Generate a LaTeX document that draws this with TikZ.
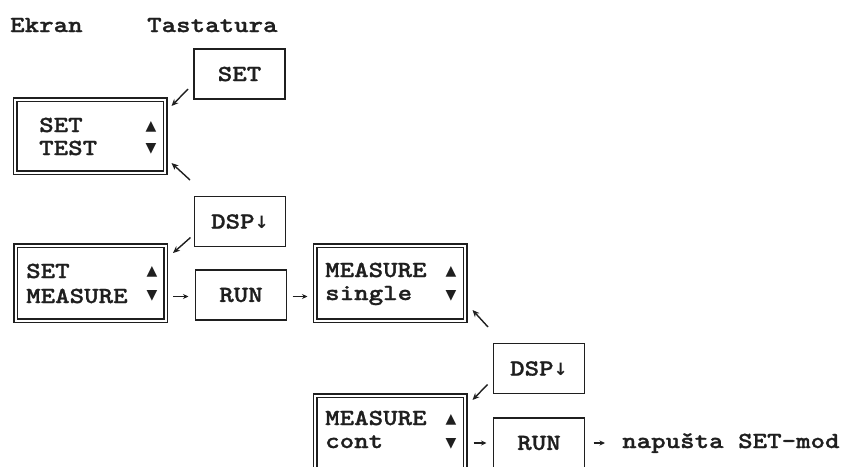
\documentclass[tikz,border=0pt]{standalone}
\usepackage{fontspec}
% slab-serif typewriter face, widened to typewriter pitch
\newfontfamily\tw[FakeStretch=1.2,FakeBold=1.2]{lmmonolt10-bold.otf}
\newfontfamily\symfont{DejaVu Sans}
\usetikzlibrary{arrows.meta,calc}

\begin{document}
\begin{tikzpicture}[x=1pt,y=-1pt,
  ink/.style={draw=black!88},
  tt/.style={font=\tw\fontsize{23}{27}\selectfont, text=black!88},
  label/.style={tt, inner sep=0pt, anchor=base west},
  tri/.style={font=\symfont\fontsize{14}{14}\selectfont, text=black!88, inner sep=0pt},
  screen/.style={ink, line width=1.5pt, double, double distance=2pt,
    minimum width=150pt, minimum height=#1, inner sep=0pt, outer sep=0pt},
  screen/.default=75pt,
  keybox/.style={ink, tt, line width=1.7pt, minimum width=91pt, minimum height=50pt,
    inner sep=0pt, outer sep=0pt},
  arr/.style={ink, line width=1.4pt, -{Stealth[length=7pt,width=6pt]}},
  harr/.style={ink, line width=1.3pt, -{Stealth[length=5.5pt,width=5pt]}}
]
\useasboundingbox (0,0) rectangle (842,466);

% column headings
\node[label] (hscreen) at (10,32) {Ekran};
\node[label] (hkeys) at (147,32) {Tastatura};

% display states
\node[screen=73pt] (s1) at (90,136) {};
\node[screen] (s2) at (90.5,283) {};
\node[screen] (s3) at (390,283) {};
\node[screen] (s4) at (390,433) {};

% key presses
\node[keybox] (set)  at (239.5,74)  {SET};
\node[keybox] (dsp1) at (240,221.5) {DSP{\symfont\bfseries\fontsize{17}{17}\selectfont↓}};
\node[keybox] (run1) at (241,295)   {RUN};
\node[keybox] (dsp2) at (539,368.5) {DSP{\symfont\bfseries\fontsize{17}{17}\selectfont↓}};
\node[keybox] (run2) at (539,443)   {RUN};

% display contents
\node[label] (s1a) at (39,132) {SET};
\node[label] (s1b) at (39,155) {TEST};
\node[tri] (s1up) at (151,126.5) {▲};
\node[tri] (s1dn) at (151,148.5) {▼};

\node[label] (s2a) at (26,278) {SET};
\node[label] (s2b) at (26,303) {MEASURE};
\node[tri] (s2up) at (152,272) {▲};
\node[tri] (s2dn) at (152,296) {▼};

\node[label] (s3a) at (325,277) {MEASURE};
\node[label] (s3b) at (325,300) {single};
\node[tri] (s3up) at (451,272) {▲};
\node[tri] (s3dn) at (451,296) {▼};

\node[label] (s4a) at (325,425) {MEASURE};
\node[label] (s4b) at (325,448) {cont};
\node[tri] (s4up) at (451,420) {▲};
\node[tri] (s4dn) at (451,444) {▼};

\node[label] (msg) at (622,448) {napušta SET-mod};

% transitions
\draw[arr] ($(set.south west)+(-6,-10)$) -- ($(s1.north east)+(6.5,6.5)$);
\coordinate (back1) at (190,180);
\draw[arr] (back1) -- ($(s1.south east)+(6.5,-9.5)$);
\draw[arr] ($(dsp1.south west)+(-4,-9)$) -- ($(s2.north east)+(7.5,7.5)$);
\draw[harr] ($(s2.east |- run1.west)+(7.5,1.5)$) -- ($(run1.west)+(-7,1.5)$);
\draw[harr] ($(run1.east)+(6,1.5)$) -- ($(s3.west |- run1.east)+(-7.5,1.5)$);
\coordinate (back2) at (488,327);
\draw[arr] (back2) -- ($(s3.south east)+(7.5,-10.5)$);
\draw[arr] ($(dsp2.south west)+(-6,-9)$) -- ($(s4.north east)+(7.5,4.5)$);
\draw[harr] ($(s4.east |- run2.west)+(8.5,0)$) -- ($(run2.west)+(-7,0)$);
\draw[harr] ($(run2.east)+(9,0)$) -- ($(msg.west |- run2.east)+(-17,0)$);
\end{tikzpicture}
\end{document}
